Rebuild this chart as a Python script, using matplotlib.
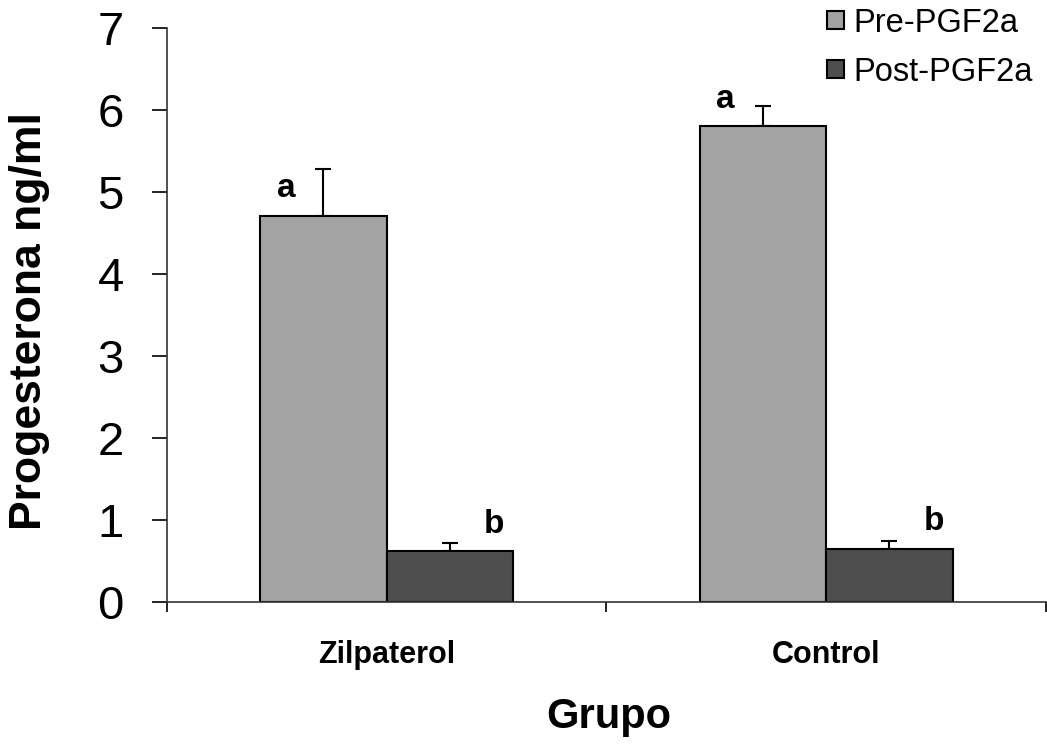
import numpy as np
import matplotlib
matplotlib.use('Agg')
import matplotlib.pyplot as plt

plt.rcParams['font.family'] = ['Liberation Sans', 'DejaVu Sans']

groups = ['Zilpaterol', 'Control']
series = ['Pre-PGF2a', 'Post-PGF2a']
pre_mean = [4.71, 5.80]
pre_err = [0.57, 0.25]
post_mean = [0.62, 0.65]
post_err = [0.10, 0.10]
pre_letters = ['a', 'a']
post_letters = ['b', 'b']

fig = plt.figure(figsize=(10.47, 7.46), dpi=100)
ax = fig.add_axes([0.1595, 0.193, 0.8395, 0.7695])

x = np.arange(len(groups))
width = 0.288
pre_color = '#a3a3a3'
post_color = '#4e4e4e'

ax.bar(x - width / 2, pre_mean, width, color=pre_color, edgecolor='black',
       linewidth=1.5, label=series[0], zorder=2)
ax.bar(x + width / 2, post_mean, width, color=post_color, edgecolor='black',
       linewidth=1.5, label=series[1], zorder=2)

# upper error bars only
ax.errorbar(x - width / 2, pre_mean, yerr=[np.zeros(len(x)), pre_err],
            fmt='none', ecolor='black', elinewidth=1.5, capsize=6,
            capthick=1.5, zorder=1)
ax.errorbar(x + width / 2, post_mean, yerr=[np.zeros(len(x)), post_err],
            fmt='none', ecolor='black', elinewidth=1.5, capsize=6,
            capthick=1.5, zorder=1)

# significance letters
for i in range(len(groups)):
    ax.text(x[i] - width / 2 - 0.085, pre_mean[i] + 0.33, pre_letters[i],
            ha='center', va='center', fontsize=24, fontweight='bold')
    ax.text(x[i] + width / 2 + 0.1, post_mean[i] + 0.33, post_letters[i],
            ha='center', va='center', fontsize=24, fontweight='bold')

ax.set_xlim(-0.5, 1.5)
ax.set_ylim(0, 7)
ax.set_yticks(range(0, 8))
ax.tick_params(axis='y', labelsize=34, length=11, width=1.2, pad=20,
               direction='out')
ax.set_xticks(x)
ax.set_xticklabels(groups, fontsize=22, fontweight='bold')
ax.tick_params(axis='x', which='major', length=0, pad=27)
ax.set_xticks([-0.5, 0.5, 1.5], minor=True)
ax.tick_params(axis='x', which='minor', length=7, width=1.2,
               direction='out')

for side in ['top', 'right']:
    ax.spines[side].set_visible(False)
ax.spines['left'].set_linewidth(1.2)
ax.spines['bottom'].set_linewidth(1.2)
ax.spines['left'].set_color('#333333')
ax.spines['bottom'].set_color('#333333')

ax.set_ylabel('Progesterona ng/ml', fontsize=32, fontweight='bold')
ax.yaxis.set_label_coords(-0.156, 0.49)
ax.yaxis.label.set_va('center')
ax.set_xlabel('Grupo', fontsize=30, fontweight='bold')
ax.xaxis.set_label_coords(0.503, -0.2)
ax.xaxis.label.set_va('center')

leg = ax.legend(loc='upper right', bbox_to_anchor=(1.0, 1.058),
                fontsize=23.5, frameon=False, handlelength=0.5,
                handleheight=0.5, handletextpad=0.3, labelspacing=0.55,
                borderaxespad=0)

fig.savefig('out.png', dpi=100)
